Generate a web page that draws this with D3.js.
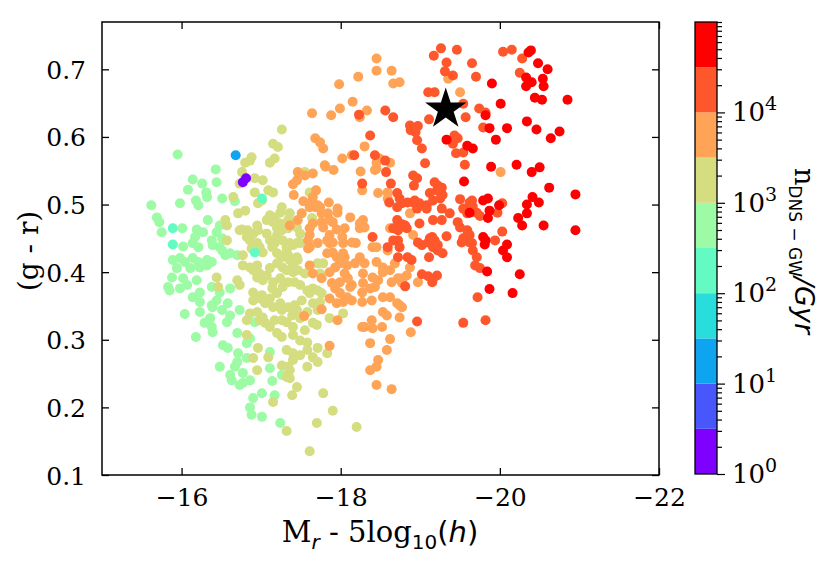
<!DOCTYPE html>
<html><head><meta charset="utf-8">
<script src="https://cdn.jsdelivr.net/npm/d3@7"></script>
<style>
body{margin:0;background:#fff}
text{font-family:"DejaVu Serif",serif;fill:#000}
</style></head>
<body><svg id="c" width="827" height="564"></svg>
<script>
// ---------- axis settings ----------
const xDomain = [-15, -22];
const yDomain = [0.1, 0.77];
const xTicks = [-16, -18, -20, -22];
const yTicks = [0.1, 0.2, 0.3, 0.4, 0.5, 0.6, 0.7];
const cbBoundaries = [1, 3.162, 10, 31.62, 100, 316.2, 1000, 3162, 10000, 31623, 100000];
const cbColors = ["#8000ff","#4757fb","#0ea4f0","#2adddd","#63fbc3","#9cfba4","#d4dd80","#ffa457","#ff572c","#ff0000"];
const cbMajorTicks = [1, 10, 100, 1000, 10000];
const cbMajorExp = ["0","1","2","3","4"];

// galaxy (M_r - 5log10 h, g - r) per DNS-GW rate level n [1/Gyr]
const nPurple = 1.8;
const galPurple = [[-16.81,0.539],[-16.77,0.533]];
const nAzure = 18;
const galAzure = [[-16.68,0.573]];
const nAqua = 180;
const galAqua = [[-15.89,0.465],[-15.89,0.441],[-17.01,0.509],[-16.92,0.429]];
const nGreen = 560;
const galGreen = [[-15.95,0.574],[-16.43,0.552],[-16.44,0.533],[-16.14,0.537],[-16.26,0.531],[-16.08,0.522],[-16.31,0.518],[-16.32,0.511],[-16.18,0.506],[-16.21,0.499],[-16.51,0.509],[-16.67,0.505],[-15.62,0.499],[-15.98,0.502],[-15.69,0.481],[-15.72,0.474],[-15.75,0.459],[-16.01,0.465],[-16.33,0.477],[-16.19,0.463],[-16.27,0.459],[-16.17,0.452],[-16.14,0.443],[-16.21,0.437],[-16.38,0.447],[-16.39,0.440],[-16.48,0.469],[-16.44,0.459],[-16.51,0.450],[-16.48,0.437],[-16.02,0.438],[-15.89,0.418],[-15.98,0.421],[-16.04,0.415],[-16.14,0.421],[-16.21,0.415],[-16.32,0.418],[-16.51,0.432],[-16.55,0.425],[-16.61,0.428],[-16.70,0.425],[-15.94,0.406],[-16.11,0.406],[-16.23,0.407],[-16.32,0.410],[-16.38,0.415],[-15.88,0.392],[-16.02,0.391],[-16.19,0.388],[-15.83,0.378],[-15.98,0.376],[-16.07,0.381],[-16.14,0.363],[-16.23,0.370],[-16.38,0.378],[-16.61,0.376],[-16.48,0.370],[-15.85,0.373],[-16.23,0.356],[-16.38,0.351],[-16.44,0.358],[-16.58,0.354],[-16.51,0.344],[-16.61,0.336],[-16.73,0.344],[-16.23,0.341],[-16.36,0.332],[-16.29,0.325],[-16.38,0.319],[-16.57,0.326],[-16.04,0.338],[-16.18,0.304],[-16.39,0.311],[-16.70,0.310],[-16.86,0.302],[-16.52,0.292],[-16.58,0.288],[-16.82,0.295],[-16.70,0.267],[-16.82,0.273],[-16.48,0.260],[-16.67,0.260],[-16.77,0.251],[-16.63,0.240],[-16.73,0.233],[-16.86,0.240],[-17.11,0.282],[-17.11,0.258],[-17.14,0.239],[-17.01,0.221],[-17.17,0.218],[-16.90,0.214],[-16.86,0.200],[-16.88,0.189],[-17.01,0.186],[-17.24,0.177],[-16.61,0.248],[-16.77,0.236],[-17.26,0.248],[-16.71,0.280],[-16.92,0.326],[-16.39,0.348]];
const nYellow = 1800;
const galYellow = [[-17.26,0.611],[-17.15,0.590],[-17.21,0.585],[-17.11,0.562],[-17.17,0.568],[-16.88,0.570],[-16.86,0.565],[-16.80,0.562],[-16.76,0.548],[-16.73,0.531],[-16.92,0.539],[-17.02,0.536],[-16.92,0.518],[-17.09,0.521],[-17.15,0.518],[-16.65,0.511],[-17.01,0.506],[-16.96,0.502],[-16.71,0.487],[-16.80,0.491],[-17.11,0.484],[-17.17,0.481],[-17.24,0.488],[-17.26,0.496],[-17.36,0.487],[-17.07,0.477],[-17.15,0.474],[-17.24,0.472],[-17.20,0.465],[-17.26,0.462],[-17.34,0.477],[-17.34,0.465],[-16.55,0.477],[-16.57,0.469],[-16.76,0.463],[-16.83,0.462],[-16.90,0.457],[-16.82,0.452],[-17.07,0.457],[-16.57,0.447],[-17.45,0.466],[-17.49,0.457],[-17.46,0.444],[-17.36,0.443],[-17.17,0.443],[-16.95,0.443],[-16.98,0.437],[-16.88,0.435],[-16.86,0.447],[-17.11,0.447],[-17.14,0.437],[-17.02,0.429],[-17.20,0.455],[-17.27,0.447],[-17.32,0.437],[-17.20,0.428],[-17.26,0.422],[-17.34,0.425],[-17.45,0.422],[-16.77,0.410],[-16.86,0.407],[-16.95,0.410],[-16.98,0.398],[-17.07,0.395],[-17.11,0.406],[-17.20,0.413],[-17.27,0.407],[-17.40,0.410],[-17.46,0.403],[-16.44,0.392],[-16.46,0.378],[-16.70,0.388],[-16.73,0.381],[-16.90,0.370],[-17.01,0.366],[-16.95,0.469],[-16.96,0.462],[-16.73,0.462],[-16.77,0.425],[-16.90,0.403],[-16.95,0.392],[-17.02,0.388],[-17.32,0.432],[-17.40,0.440],[-17.49,0.443],[-17.46,0.418],[-17.40,0.400],[-17.32,0.403],[-17.24,0.391],[-17.15,0.385],[-17.14,0.376],[-17.20,0.369],[-17.27,0.378],[-17.34,0.385],[-17.42,0.385],[-17.49,0.381],[-17.58,0.373],[-17.61,0.369],[-17.51,0.358],[-17.42,0.351],[-17.34,0.348],[-17.26,0.344],[-17.15,0.348],[-17.05,0.354],[-16.98,0.361],[-16.90,0.358],[-16.86,0.339],[-16.82,0.329],[-16.95,0.341],[-17.02,0.333],[-17.05,0.325],[-17.11,0.319],[-17.17,0.329],[-17.26,0.329],[-17.32,0.326],[-17.40,0.319],[-17.49,0.332],[-17.58,0.341],[-17.65,0.325],[-17.65,0.354],[-17.74,0.356],[-17.78,0.413],[-17.74,0.398],[-17.55,0.398],[-17.70,0.322],[-17.86,0.332],[-18.03,0.339],[-17.49,0.299],[-17.58,0.296],[-17.26,0.304],[-17.32,0.285],[-17.40,0.280],[-17.49,0.277],[-17.58,0.285],[-17.65,0.274],[-17.71,0.288],[-17.83,0.280],[-17.71,0.267],[-17.40,0.270],[-17.26,0.262],[-17.34,0.260],[-17.34,0.248],[-16.96,0.288],[-17.09,0.274],[-17.45,0.230],[-17.39,0.218],[-17.15,0.208],[-17.78,0.221],[-17.90,0.195],[-17.70,0.177],[-17.32,0.165],[-17.61,0.135],[-18.20,0.171],[-17.65,0.376],[-17.71,0.373],[-17.76,0.369],[-17.71,0.344],[-17.45,0.344],[-17.55,0.314],[-17.58,0.260],[-17.36,0.243],[-17.11,0.361],[-17.24,0.354],[-17.39,0.336],[-16.98,0.329],[-16.82,0.307],[-17.20,0.310],[-17.40,0.307],[-17.36,0.255],[-17.32,0.245],[-16.90,0.273],[-16.95,0.255],[-17.55,0.548],[-17.61,0.518],[-17.64,0.480],[-17.36,0.418],[-17.71,0.413]];
const nOrange = 5600;
const galOrange = [[-18.45,0.716],[-18.45,0.698],[-18.22,0.689],[-17.98,0.678],[-18.15,0.652],[-17.99,0.642],[-18.33,0.639],[-18.24,0.629],[-17.88,0.632],[-17.64,0.635],[-17.68,0.598],[-17.74,0.592],[-17.78,0.583],[-18.30,0.586],[-18.02,0.568],[-18.14,0.573],[-18.45,0.562],[-18.45,0.553],[-17.81,0.556],[-17.91,0.551],[-18.25,0.549],[-18.27,0.521],[-18.47,0.517],[-17.65,0.546],[-17.55,0.543],[-17.46,0.548],[-17.45,0.536],[-17.40,0.530],[-17.69,0.521],[-17.65,0.511],[-17.41,0.514],[-17.53,0.505],[-17.64,0.506],[-17.74,0.496],[-17.68,0.496],[-17.76,0.487],[-17.96,0.494],[-17.96,0.488],[-17.85,0.503],[-18.12,0.481],[-18.28,0.477],[-18.30,0.466],[-17.51,0.487],[-17.36,0.469],[-17.61,0.465],[-17.65,0.472],[-17.76,0.474],[-17.90,0.474],[-17.95,0.463],[-18.05,0.465],[-18.24,0.465],[-18.19,0.443],[-18.40,0.437],[-17.59,0.447],[-17.61,0.437],[-17.71,0.443],[-17.83,0.447],[-17.90,0.444],[-18.64,0.698],[-18.66,0.679],[-18.74,0.681],[-19.35,0.686],[-19.50,0.666],[-20.01,0.548],[-18.49,0.568],[-18.62,0.562],[-18.59,0.518],[-18.62,0.465],[-17.80,0.558],[-17.71,0.499],[-17.84,0.487],[-17.86,0.477],[-17.61,0.496],[-17.46,0.477],[-17.61,0.455],[-17.78,0.466],[-17.86,0.455],[-18.02,0.452],[-18.03,0.443],[-17.83,0.428],[-17.90,0.429],[-17.95,0.422],[-18.03,0.428],[-17.99,0.413],[-18.14,0.444],[-18.24,0.472],[-18.43,0.551],[-18.59,0.509],[-18.87,0.487],[-18.91,0.455],[-18.45,0.437],[-18.24,0.422],[-18.45,0.415],[-18.53,0.407],[-17.59,0.435],[-17.86,0.443],[-18.05,0.422],[-18.08,0.410],[-17.93,0.407],[-17.86,0.400],[-18.05,0.398],[-18.09,0.391],[-17.99,0.385],[-17.89,0.384],[-17.93,0.376],[-17.99,0.369],[-18.08,0.363],[-18.14,0.358],[-18.03,0.356],[-17.95,0.354],[-17.86,0.361],[-18.18,0.413],[-18.30,0.413],[-18.28,0.398],[-18.40,0.392],[-18.28,0.384],[-18.37,0.376],[-18.47,0.388],[-18.39,0.358],[-18.14,0.381],[-17.65,0.398],[-17.76,0.391],[-17.61,0.410],[-17.54,0.335],[-17.76,0.345],[-17.96,0.329],[-17.86,0.291],[-18.30,0.319],[-18.40,0.317],[-18.39,0.329],[-18.37,0.295],[-18.37,0.255],[-18.45,0.260],[-18.45,0.233],[-18.47,0.270],[-18.12,0.378],[-18.27,0.370],[-18.43,0.378],[-18.27,0.356],[-18.53,0.363],[-18.62,0.363],[-18.53,0.400],[-18.62,0.403],[-18.64,0.385],[-18.72,0.391],[-18.77,0.384],[-18.71,0.354],[-18.77,0.348],[-18.53,0.341],[-18.58,0.336],[-18.74,0.333],[-18.52,0.319],[-18.27,0.319],[-18.62,0.301],[-18.58,0.285],[-18.88,0.311],[-18.64,0.227],[-18.59,0.432],[-18.68,0.413],[-18.78,0.391],[-18.83,0.395],[-18.87,0.407],[-18.97,0.385],[-18.74,0.351]];
const nRedOrange = 18000;
const galRedOrange = [[-19.26,0.731],[-19.17,0.720],[-19.46,0.729],[-19.33,0.710],[-19.31,0.697],[-19.41,0.691],[-19.10,0.666],[-19.18,0.666],[-19.65,0.709],[-19.70,0.689],[-19.54,0.649],[-19.57,0.629],[-19.11,0.626],[-19.74,0.642],[-19.82,0.636],[-19.79,0.614],[-20.04,0.726],[-20.15,0.729],[-20.28,0.716],[-20.25,0.695],[-18.88,0.610],[-18.97,0.616],[-18.94,0.607],[-18.96,0.595],[-19.02,0.583],[-19.43,0.602],[-19.47,0.598],[-19.41,0.590],[-19.45,0.576],[-19.54,0.577],[-19.56,0.559],[-19.06,0.561],[-18.91,0.543],[-18.96,0.539],[-18.92,0.528],[-19.18,0.533],[-19.22,0.528],[-19.21,0.521],[-19.12,0.517],[-19.16,0.506],[-19.50,0.508],[-19.62,0.503],[-19.65,0.506],[-19.66,0.497],[-19.54,0.494],[-19.59,0.487],[-19.71,0.488],[-19.75,0.483],[-19.97,0.488],[-20.03,0.502],[-18.63,0.531],[-18.61,0.503],[-18.71,0.496],[-18.77,0.502],[-18.91,0.503],[-18.99,0.502],[-19.08,0.499],[-19.37,0.487],[-19.47,0.474],[-19.50,0.466],[-19.16,0.477],[-19.27,0.477],[-19.33,0.453],[-18.99,0.472],[-18.77,0.471],[-18.83,0.465],[-19.59,0.462],[-19.62,0.455],[-19.94,0.447],[-20.03,0.460],[-19.15,0.452],[-19.18,0.447],[-18.97,0.444],[-18.66,0.447],[-18.72,0.447],[-18.56,0.639],[-18.66,0.629],[-18.56,0.565],[-19.27,0.525],[-19.25,0.509],[-19.27,0.494],[-19.22,0.432],[-19.28,0.428],[-19.16,0.437],[-19.54,0.450],[-19.60,0.457],[-19.62,0.444],[-19.66,0.432],[-19.71,0.422],[-19.69,0.410],[-19.21,0.395],[-19.15,0.385],[-19.75,0.406],[-19.72,0.363],[-19.10,0.444],[-19.22,0.440],[-19.52,0.444],[-19.65,0.443],[-18.72,0.422],[-18.89,0.418],[-19.11,0.422],[-19.02,0.397],[-19.10,0.394],[-19.16,0.390],[-18.81,0.379],[-19.54,0.325],[-19.82,0.329],[-18.96,0.327],[-18.37,0.602],[-18.87,0.617],[-18.17,0.573],[-18.43,0.573],[-18.57,0.548],[-18.27,0.531],[-18.71,0.517],[-18.74,0.509],[-18.84,0.503],[-18.93,0.506],[-18.96,0.494],[-19.08,0.494],[-18.71,0.477],[-18.66,0.465],[-18.72,0.462],[-18.81,0.469],[-18.40,0.452],[-18.74,0.437],[-18.59,0.437],[-18.84,0.422],[-19.28,0.514],[-19.12,0.450],[-19.02,0.440],[-18.23,0.633]];
const nRed = 56000;
const galRed = [[-19.90,0.679],[-20.01,0.649],[-19.82,0.632],[-19.87,0.613],[-20.09,0.613],[-19.95,0.596],[-20.36,0.725],[-20.39,0.728],[-20.48,0.709],[-20.60,0.700],[-20.33,0.688],[-20.40,0.681],[-20.33,0.675],[-20.54,0.686],[-20.55,0.675],[-20.44,0.658],[-20.53,0.655],[-20.85,0.655],[-20.34,0.623],[-20.46,0.611],[-20.75,0.608],[-20.64,0.598],[-19.33,0.596],[-19.59,0.587],[-19.66,0.583],[-19.89,0.556],[-20.21,0.559],[-20.40,0.548],[-20.50,0.555],[-19.55,0.534],[-19.79,0.506],[-19.85,0.509],[-19.99,0.499],[-20.34,0.500],[-20.41,0.511],[-20.49,0.503],[-20.62,0.525],[-20.95,0.515],[-20.23,0.480],[-20.28,0.469],[-20.55,0.469],[-20.95,0.462],[-20.34,0.487],[-19.87,0.491],[-19.85,0.480],[-19.79,0.452],[-19.82,0.447],[-19.81,0.441],[-20.09,0.441],[-20.04,0.432],[-20.09,0.422],[-19.84,0.401],[-19.87,0.375],[-20.25,0.397],[-20.16,0.369],[-19.62,0.488]];
const starPoint = [-19.32, 0.641];

const groups = [
  {n:nGreen, pts:galGreen},{n:nYellow, pts:galYellow},{n:nOrange, pts:galOrange},
  {n:nRedOrange, pts:galRedOrange},{n:nRed, pts:galRed},
  {n:nAqua, pts:galAqua},{n:nAzure, pts:galAzure},{n:nPurple, pts:galPurple}
];

// ---------- drawing ----------
const svg = d3.select("#c");
const P = {x0:102, x1:659, y0:22, y1:475};
const x = d3.scaleLinear().domain(xDomain).range([P.x0, P.x1]);
const y = d3.scaleLinear().domain(yDomain).range([P.y1, P.y0]);
const color = d3.scaleThreshold().domain(cbBoundaries.slice(1, -1)).range(cbColors);

const gPts = svg.append("g");
groups.forEach(g => {
  gPts.selectAll(null).data(g.pts).join("circle")
    .attr("cx", d => x(d[0])).attr("cy", d => y(d[1])).attr("r", 5)
    .attr("fill", color(g.n));
});

// star marker
const R = 21.7, rIn = R * 0.382;
const starPts = d3.range(10).map(i => {
  const a = -Math.PI/2 + i * Math.PI/5, rr = i % 2 ? rIn : R;
  return [rr*Math.cos(a), rr*Math.sin(a)];
});
svg.append("path").attr("d", "M" + starPts.join("L") + "Z")
  .attr("transform", `translate(${x(starPoint[0])},${y(starPoint[1])})`)
  .attr("fill", "#000");

// axes
const fmtX = d => "\u2212" + Math.abs(d);
const axB = svg.append("g").attr("transform", `translate(0,${P.y1})`)
  .call(d3.axisBottom(x).tickValues(xTicks).tickSize(-7).tickPadding(13).tickFormat(fmtX));
const axT = svg.append("g").attr("transform", `translate(0,${P.y0})`)
  .call(d3.axisTop(x).tickValues(xTicks).tickSize(-7).tickFormat(""));
const axL = svg.append("g").attr("transform", `translate(${P.x0},0)`)
  .call(d3.axisLeft(y).tickValues(yTicks).tickSize(-7).tickPadding(16).tickFormat(d3.format(".1f")));
const axR = svg.append("g").attr("transform", `translate(${P.x1},0)`)
  .call(d3.axisRight(y).tickValues(yTicks).tickSize(-7).tickFormat(""));
[axB, axT, axL, axR].forEach(a => {
  a.select(".domain").remove();
  a.selectAll(".tick line").attr("stroke", "#000").attr("stroke-width", 1.3);
  a.selectAll(".tick text").style("font-family", "DejaVu Serif").style("font-size", "25px").attr("fill", "#000");
});
axL.selectAll(".tick text").attr("dy", "0.36em");
svg.append("rect").attr("x", P.x0).attr("y", P.y0).attr("width", P.x1 - P.x0).attr("height", P.y1 - P.y0)
  .attr("fill", "none").attr("stroke", "#000").attr("stroke-width", 1.5);

// axis labels
const xl = svg.append("text").attr("x", 380).attr("y", 542).attr("text-anchor", "middle").style("font-size", "29px");
xl.append("tspan").text("M");
xl.append("tspan").attr("dy", 7).style("font-family", "DejaVu Sans").style("font-style", "italic").style("font-size", "20px").text("r");
xl.append("tspan").attr("dy", -7).text(" - 5log");
xl.append("tspan").attr("dy", 7).style("font-family", "DejaVu Sans").style("font-size", "20px").text("10");
xl.append("tspan").attr("dy", -7).style("font-family", "DejaVu Sans").text("(");
xl.append("tspan").style("font-family", "DejaVu Sans").style("font-style", "italic").text("h");
xl.append("tspan").style("font-family", "DejaVu Sans").text(")");

svg.append("text").attr("transform", "translate(38,251) rotate(-90)").attr("text-anchor", "middle")
  .style("font-size", "28px").text("(g - r)");

// ---------- colorbar ----------
const CB = {x0:695, x1:717, y0:22, y1:474};
const cy = d3.scaleLog().domain([cbBoundaries[0], cbBoundaries[cbBoundaries.length-1]]).range([CB.y1, CB.y0]);
svg.append("g").selectAll("rect").data(cbColors).join("rect")
  .attr("x", CB.x0).attr("width", CB.x1 - CB.x0)
  .attr("y", (c, i) => cy(cbBoundaries[i+1])).attr("height", (c, i) => cy(cbBoundaries[i]) - cy(cbBoundaries[i+1]))
  .attr("fill", c => c);
svg.append("rect").attr("x", CB.x0).attr("y", CB.y0).attr("width", CB.x1 - CB.x0).attr("height", CB.y1 - CB.y0)
  .attr("fill", "none").attr("stroke", "#000").attr("stroke-width", 1.3);
const minorVals = [];
for (let e = 0; e < 5; e++) for (let k = 2; k <= 9; k++) minorVals.push(k * 10 ** e);
minorVals.push(100000);
const cbMinor = svg.append("g").attr("transform", `translate(${CB.x1},0)`)
  .call(d3.axisRight(cy).tickValues(minorVals).tickSize(5).tickFormat(""));
const cbMajor = svg.append("g").attr("transform", `translate(${CB.x1},0)`)
  .call(d3.axisRight(cy).tickValues(cbMajorTicks).tickSize(8).tickFormat(""));
[cbMinor, cbMajor].forEach(a => { a.select(".domain").remove(); a.selectAll("line").attr("stroke", "#000").attr("stroke-width", 1.2); });
cbMajorTicks.forEach((v, i) => {
  const t = svg.append("text").attr("x", CB.x1 + 15).attr("y", cy(v) + 9).style("font-size", "26px");
  t.append("tspan").text("10");
  t.append("tspan").attr("dy", -11).style("font-size", "19px").text(cbMajorExp[i]);
});
const cl = svg.append("text").attr("transform", "translate(795,251) rotate(90)").attr("text-anchor", "middle")
  .style("font-size", "27px");
cl.append("tspan").text("n");
cl.append("tspan").attr("dy", 6).style("font-family", "DejaVu Sans").style("font-size", "17px").text("DNS \u2212 GW");
cl.append("tspan").attr("dy", -6).style("font-family", "DejaVu Sans").style("font-style", "italic").text("/Gyr");
</script>
</body></html>
